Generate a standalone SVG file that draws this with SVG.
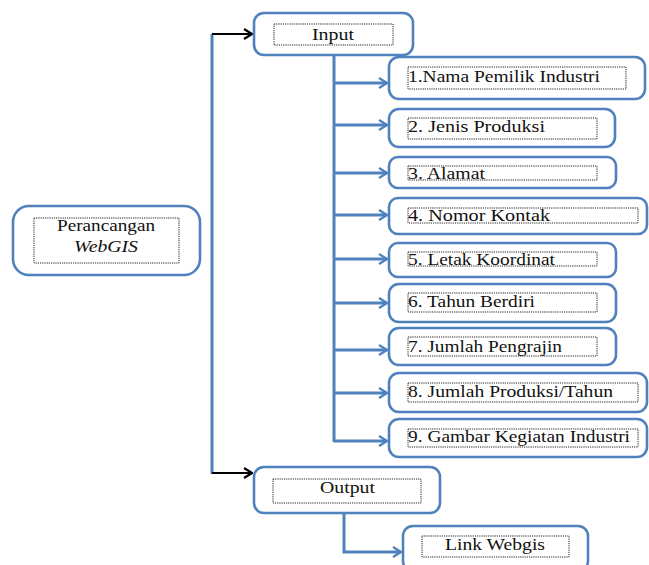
<svg xmlns="http://www.w3.org/2000/svg" width="649" height="565" viewBox="0 0 649 565">
<defs>
<marker id="ab" viewBox="0 0 10 12" refX="9" refY="6" markerWidth="10" markerHeight="12" markerUnits="userSpaceOnUse" orient="auto">
<path d="M1,1 L9,6 L1,11" fill="none" stroke="#4f81bd" stroke-width="2.2"/>
</marker>
<marker id="ak" viewBox="0 0 10 12" refX="9" refY="6" markerWidth="10" markerHeight="12" markerUnits="userSpaceOnUse" orient="auto">
<path d="M1,1 L9,6 L1,11" fill="none" stroke="#000" stroke-width="2.2"/>
</marker>
</defs>
<style>
.box{fill:#fff;stroke:#4f81bd;stroke-width:2.6}
.in{fill:none;stroke:#222;stroke-width:1;stroke-dasharray:1.2 1}
.t{font-family:'Liberation Serif','Times New Roman',serif;font-size:17px;fill:#111}
.cb{fill:none;stroke:#4f81bd;stroke-width:3}
.ck{fill:none;stroke:#000;stroke-width:2.2}
</style>
<rect width="649" height="565" fill="#fff"/>
<g id="connectors">
<path class="cb" d="M212,474 V34"/>
<path class="ck" d="M212,34 H252" marker-end="url(#ak)"/>
<path class="ck" d="M212,473 H252" marker-end="url(#ak)"/>
<path class="cb" d="M334,55 V442"/>
<path class="cb" d="M334,83 H387" marker-end="url(#ab)"/>
<path class="cb" d="M334,125 H387" marker-end="url(#ab)"/>
<path class="cb" d="M334,173 H387" marker-end="url(#ab)"/>
<path class="cb" d="M334,215 H387" marker-end="url(#ab)"/>
<path class="cb" d="M334,259 H387" marker-end="url(#ab)"/>
<path class="cb" d="M334,303 H387" marker-end="url(#ab)"/>
<path class="cb" d="M334,350 H387" marker-end="url(#ab)"/>
<path class="cb" d="M334,393 H387" marker-end="url(#ab)"/>
<path class="cb" d="M334,441 H387" marker-end="url(#ab)"/>
<path class="cb" d="M344,513 V552 H401" marker-end="url(#ab)"/>
</g>
<g id="main">
<rect class="box" x="13" y="206" width="187" height="69" rx="16"/>
<rect class="in" x="34" y="218" width="145" height="45"/>
<text class="t" x="57" y="231" textLength="98" lengthAdjust="spacingAndGlyphs">Perancangan</text>
<text class="t" x="74" y="252" font-style="italic" textLength="64" lengthAdjust="spacingAndGlyphs">WebGIS</text>
</g>
<g id="input">
<rect class="box" x="254" y="13" width="159" height="42" rx="10"/>
<rect class="in" x="274" y="24" width="119" height="21"/>
<text class="t" x="312" y="40" textLength="42" lengthAdjust="spacingAndGlyphs">Input</text>
</g>
<g id="n1">
<rect class="box" x="389" y="57" width="256" height="42" rx="10"/>
<rect class="in" x="408" y="67" width="218" height="22"/>
<text class="t" x="408" y="82" textLength="192" lengthAdjust="spacingAndGlyphs">1.Nama Pemilik Industri</text>
</g>
<g id="n2">
<rect class="box" x="389" y="109" width="226" height="38" rx="10"/>
<rect class="in" x="408" y="118" width="189" height="21"/>
<text class="t" x="408" y="132" textLength="137" lengthAdjust="spacingAndGlyphs">2. Jenis Produksi</text>
</g>
<g id="n3">
<rect class="box" x="389" y="157" width="227" height="31" rx="9"/>
<rect class="in" x="408" y="166" width="189" height="14"/>
<text class="t" x="408" y="179" textLength="77" lengthAdjust="spacingAndGlyphs">3. Alamat</text>
</g>
<g id="n4">
<rect class="box" x="389" y="198" width="258" height="36" rx="9"/>
<rect class="in" x="408" y="208" width="230" height="15"/>
<text class="t" x="408" y="221" textLength="142" lengthAdjust="spacingAndGlyphs">4. Nomor  Kontak</text>
</g>
<g id="n5">
<rect class="box" x="389" y="243" width="227" height="34" rx="9"/>
<rect class="in" x="408" y="252" width="189" height="14"/>
<text class="t" x="408" y="265" textLength="147" lengthAdjust="spacingAndGlyphs">5. Letak Koordinat</text>
</g>
<g id="n6">
<rect class="box" x="389" y="284" width="227" height="38" rx="10"/>
<rect class="in" x="408" y="293" width="189" height="19"/>
<text class="t" x="408" y="307" textLength="127" lengthAdjust="spacingAndGlyphs">6. Tahun Berdiri</text>
</g>
<g id="n7">
<rect class="box" x="389" y="328" width="227" height="37" rx="10"/>
<rect class="in" x="408" y="337" width="189" height="19"/>
<text class="t" x="408" y="352" textLength="154" lengthAdjust="spacingAndGlyphs">7. Jumlah Pengrajin</text>
</g>
<g id="n8">
<rect class="box" x="389" y="373" width="258" height="39" rx="10"/>
<rect class="in" x="408" y="383" width="230" height="19"/>
<text class="t" x="408" y="397" textLength="205" lengthAdjust="spacingAndGlyphs">8. Jumlah Produksi/Tahun</text>
</g>
<g id="n9">
<rect class="box" x="389" y="419" width="258" height="38" rx="10"/>
<rect class="in" x="408" y="429" width="230" height="18"/>
<text class="t" x="408" y="442" textLength="222" lengthAdjust="spacingAndGlyphs">9. Gambar Kegiatan  Industri</text>
</g>
<g id="output">
<rect class="box" x="254" y="467" width="186" height="46" rx="10"/>
<rect class="in" x="273" y="479" width="148" height="24"/>
<text class="t" x="320" y="493" textLength="55" lengthAdjust="spacingAndGlyphs">Output</text>
</g>
<g id="link">
<rect class="box" x="403" y="526" width="185" height="45" rx="10"/>
<rect class="in" x="422" y="536" width="147" height="21"/>
<text class="t" x="445" y="550" textLength="100" lengthAdjust="spacingAndGlyphs">Link Webgis</text>
</g>
</svg>
